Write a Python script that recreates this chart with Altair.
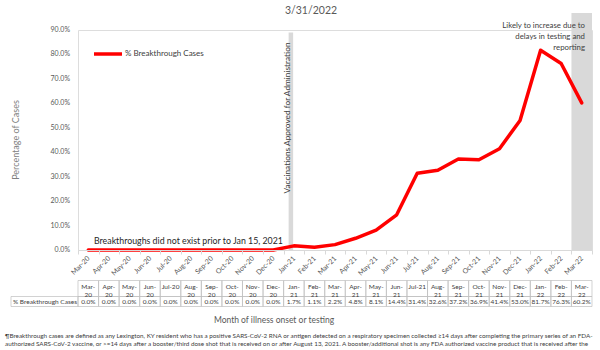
import altair as alt
import pandas as pd

months = ["Mar-20", "Apr-20", "May-20", "Jun-20", "Jul-20", "Aug-20", "Sep-20", "Oct-20",
          "Nov-20", "Dec-20", "Jan-21", "Feb-21", "Mar-21", "Apr-21", "May-21", "Jun-21",
          "Jul-21", "Aug-21", "Sep-21", "Oct-21", "Nov-21", "Dec-21", "Jan-22", "Feb-22", "Mar-22"]
pct = [0.0, 0.0, 0.0, 0.0, 0.0, 0.0, 0.0, 0.0, 0.0, 0.0, 1.7, 1.1, 2.2, 4.8, 8.1, 14.4,
       31.4, 32.6, 37.2, 36.9, 41.4, 53.0, 81.7, 76.3, 60.2]
series_name = "% Breakthrough Cases"
header_labels = [m if m.startswith("Jul") else m.replace("-", "-\n") for m in months]
y_ticks = [0, 10, 20, 30, 40, 50, 60, 70, 80, 90]

vacc_month = ["Jan-21"]
vacc_top = [89]
lag_month = ["Mar-22"]
lag_top = [97]

FONT = "Lato"
W, H = 514, 220

df = pd.DataFrame({"month": months, "pct": pct, "series": series_name, "header": header_labels})
df_vacc = pd.DataFrame({"month": vacc_month, "top": vacc_top, "base": [0]})
df_lag = pd.DataFrame({"month": lag_month, "top": lag_top, "base": [0]})
df_y = pd.DataFrame({"v": y_ticks})

xscale = alt.Scale(type="band", domain=months, paddingInner=0, paddingOuter=0)
yscale = alt.Scale(domain=[0, 90], nice=False, zero=True)

x_axis = alt.Axis(title=None, labelAngle=315, labelAlign="right", labelBaseline="middle",
                  labelFontSize=7, labelColor="#595959", labelFont=FONT, labelPadding=3,
                  tickBand="extent", tickSize=4, tickColor="#d9d9d9", domainColor="#d9d9d9",
                  grid=False, labelOverlap=False)

lag_band = alt.Chart(df_lag).mark_rect(color="#d9d9d9").encode(
    x=alt.X("month:N", scale=xscale, axis=x_axis),
    y=alt.Y("top:Q", scale=yscale, axis=None),
    y2="base:Q",
)
vacc_band = alt.Chart(df_vacc).mark_bar(color="#d9d9d9", width=4.5, xOffset=-3).encode(
    x=alt.X("month:N", scale=xscale),
    y=alt.Y("top:Q", scale=yscale, axis=None),
    y2="base:Q",
)

y_labels = alt.Chart(df_y).transform_calculate(
    lab="format(datum.v, '.1f') + '%'"
).mark_text(font=FONT, fontSize=7, color="#595959", align="right", baseline="middle").encode(
    x=alt.value(-8), y=alt.Y("v:Q", scale=yscale, axis=None), text="lab:N")

line = alt.Chart(df).mark_line(strokeWidth=3.5, strokeJoin="round", strokeCap="round").encode(
    x=alt.X("month:N", scale=xscale),
    y=alt.Y("pct:Q", scale=yscale, axis=None),
    color=alt.Color("series:N", scale=alt.Scale(range=["#ff0000"]),
                    legend=alt.Legend(orient="none", legendX=14, legendY=8, title=None,
                                      symbolType="stroke", symbolStrokeWidth=3.5,
                                      symbolSize=784, labelFontSize=8, labelColor="#404040",
                                      labelFont=FONT, labelOffset=1)),
)

# data table
head_cells = alt.Chart(df).mark_rect(fillOpacity=0, stroke="#bfbfbf", strokeWidth=0.7).encode(
    x=alt.X("month:N", scale=xscale), y=alt.value(250.5), y2=alt.value(266.5))
val_cells = alt.Chart(df).mark_rect(fillOpacity=0, stroke="#bfbfbf", strokeWidth=0.7).encode(
    x=alt.X("month:N", scale=xscale), y=alt.value(266.5), y2=alt.value(276.5))
name_cell = alt.Chart(df.head(1)).mark_rect(fillOpacity=0, stroke="#bfbfbf", strokeWidth=0.7).encode(
    x=alt.value(-67), x2=alt.value(0), y=alt.value(266.5), y2=alt.value(276.5))
head_text = alt.Chart(df).mark_text(fontSize=6.5, font=FONT, color="#404040", lineBreak="\n",
                                    lineHeight=7.5, baseline="middle").encode(
    x=alt.X("month:N", scale=xscale), y=alt.value(257), text="header:N")
val_text = alt.Chart(df).transform_calculate(
    lab="format(datum.pct, '.1f') + '%'"
).mark_text(fontSize=6.5, font=FONT, color="#404040", baseline="middle").encode(
    x=alt.X("month:N", scale=xscale), y=alt.value(271.7), text="lab:N")
name_text = alt.Chart(df.head(1)).mark_text(fontSize=6.5, font=FONT, color="#404040",
                                            align="left", baseline="middle").encode(
    x=alt.value(-65), y=alt.value(271.7), text="series:N")


def note(txt, x, y, **kw):
    params = dict(font=FONT, baseline="middle")
    params.update(kw)
    return alt.Chart(pd.DataFrame({"t": [txt]})).mark_text(**params).encode(
        x=alt.value(x), y=alt.value(y), text="t:N")


y_title = note("Percentage of Cases", -62, 110, fontSize=9, color="#7f7f7f",
               align="center", angle=270)
title2 = note("3/31/2022", 233, -19, fontSize=10.5, color="#595959", align="center")
no_bt = note("Breakthroughs did not exist prior to Jan 15, 2021", 16, 211,
             fontSize=8.8, color="#262626", align="left")
vacc_txt = note("Vaccinations Approved for Administration", 210, 88,
                fontSize=8.3, color="#404040", align="center", angle=270)
lag_txt = alt.Chart(pd.DataFrame({"t": ["Likely to increase due to\ndelays in testing and\nreporting"]})).mark_text(
    font=FONT, fontSize=7.8, color="#404040", align="right", baseline="top",
    lineBreak="\n", lineHeight=11).encode(x=alt.value(507), y=alt.value(-8), text="t:N")
x_title = note("Month of illness onset or testing", 196, 290, fontSize=8.5,
               color="#595959", align="center")
foot1 = note("¶Breakthrough cases are defined as any Lexington, KY resident who has a positive "
             "SARS-CoV-2 RNA or antigen detected on a respiratory specimen collected ≥14 days after "
             "completing the primary series of an FDA-", -73, 306, fontSize=6.3,
             color="#404040", align="left")
foot2 = note("authorized SARS-CoV-2 vaccine, or >=14 days after a booster/third dose shot that is "
             "received on or after August 13, 2021.  A booster/additional shot is any FDA authorized "
             "vaccine product that is received after the", -73, 313.5, fontSize=6.3,
             color="#404040", align="left")

chart = alt.layer(
    lag_band, vacc_band, y_labels, line,
    head_cells, val_cells, name_cell, head_text, val_text, name_text,
    y_title, title2, no_bt, vacc_txt, lag_txt, x_title, foot1, foot2,
).properties(
    width=W, height=H,
    autosize=alt.AutoSizeParams(type="none"),
    padding={"left": 78, "top": 30, "right": 8, "bottom": 100},
).configure_view(stroke=None).configure(background="white")

chart.save("out.html", embed_options={"renderer": "svg", "actions": False})
